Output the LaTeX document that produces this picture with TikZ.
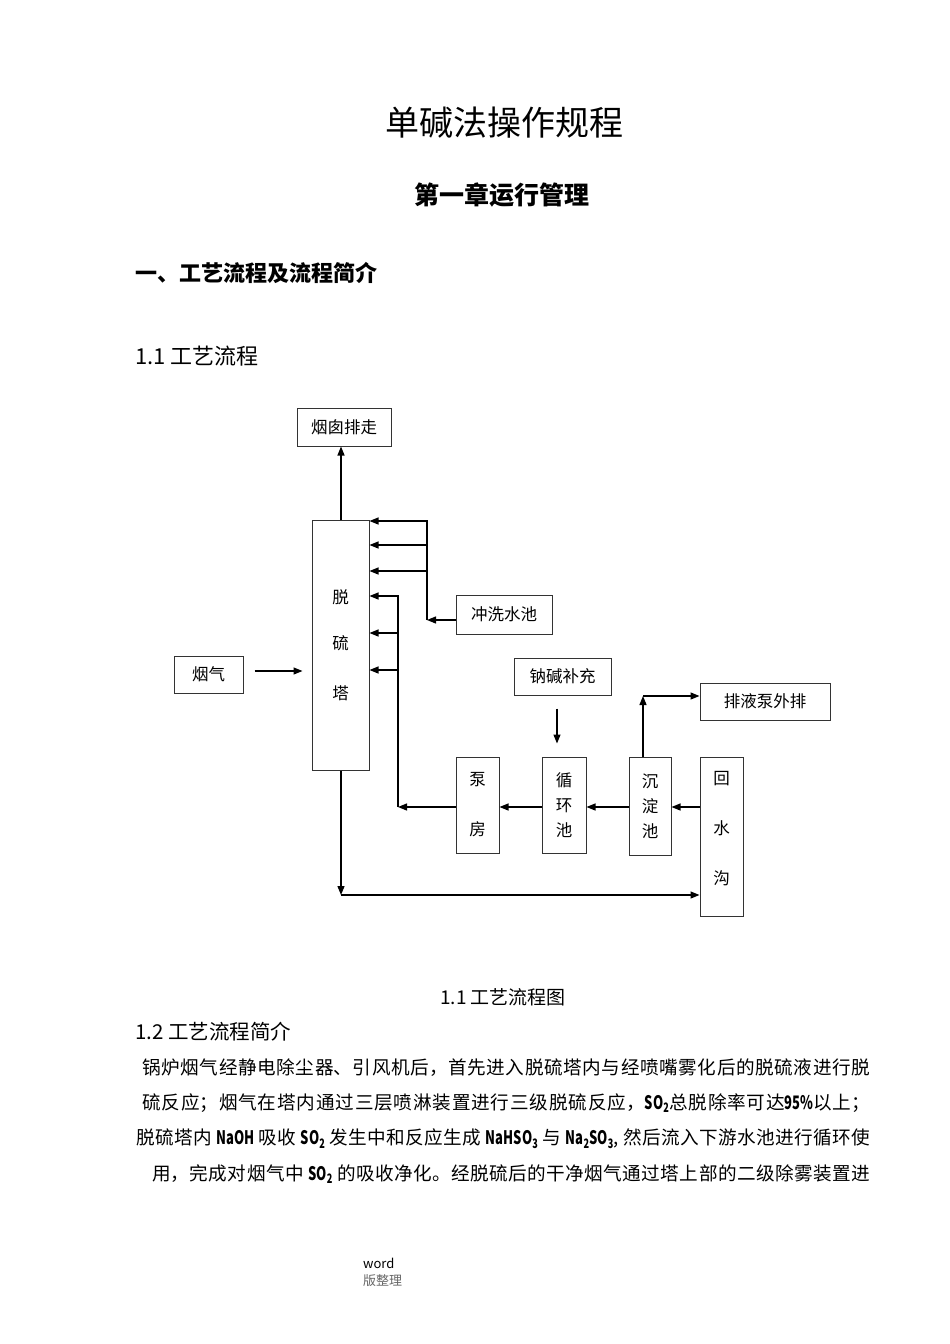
\documentclass[tikz,border=0pt]{standalone}
\usepackage{fontspec}
\setmainfont{Noto Sans CJK SC}
\usepackage{graphicx}
\usetikzlibrary{arrows.meta}
\XeTeXlinebreaklocale "zh"
\XeTeXlinebreakskip=0pt plus 3pt
\newcommand\fsz[1]{\fontsize{#1}{#1}\selectfont}
\newcommand\lat[1]{\scalebox{0.7}[1]{\bfseries #1}}

\begin{document}
\begin{tikzpicture}[
    x=1pt, y=-1pt,
    >={Triangle[length=9pt,width=7pt]},
    box/.style={draw=black!80, line width=1pt, inner sep=0pt, align=center,
                font=\fontsize{16.5}{25}\selectfont},
    flow/.style={->, line width=1.3pt},
    pipe/.style={line width=1.3pt},
    txt/.style={inner sep=0pt, anchor=west},
    para/.style={txt, align=justify, font=\fsz{18.6}},
]
\useasboundingbox[fill=white] (0,0) rectangle (950,1344);

% headings
\node[inner sep=0pt, font=\fsz{34}] (title) at (504,123) {单碱法操作规程};
\node[inner sep=0pt, font=\fsz{25}\bfseries] (chap) at (502,195) {第一章运行管理};
\node[txt, font=\fsz{22}\bfseries] (sec) at (135,273) {一、工艺流程及流程简介};
\node[txt, font=\fsz{22}] (sub1) at (135,356) {1.1 工艺流程};

% boxes
\node[box, minimum width=94pt, minimum height=38pt] (chimney) at (344,427) {烟囱排走};
\node[box, minimum width=57pt, minimum height=250pt] (tower) at (340.5,645)
    {脱\\[21pt]硫\\[25pt]塔};
\node[box, minimum width=96pt, minimum height=39pt] (wash) at (504,614.5) {冲洗水池};
\node[box, minimum width=69pt, minimum height=37pt] (gas) at (208.5,674.5) {烟气};
\node[box, minimum width=97pt, minimum height=37pt] (naoh) at (562.5,676.5) {钠碱补充};
\node[box, minimum width=130pt, minimum height=37pt] (drain) at (765,701.5) {排液泵外排};
\node[box, minimum width=43pt, minimum height=96pt] (pump) at (477.5,805) {泵\\[25pt]房};
\node[box, minimum width=44pt, minimum height=96pt] (circ) at (564,805) {循\\环\\池};
\node[box, minimum width=42pt, minimum height=98pt] (settle) at (650,806) {沉\\淀\\池};
\node[box, minimum width=43pt, minimum height=159pt] (ditch) at (721.5,836.5) {};
\node[inner sep=0pt, align=center, font=\fontsize{16.5}{25}\selectfont] (ditchtxt)
    at (721.5,829) {回\\[25pt]水\\[25pt]沟};

% bend points
\coordinate (row) at (0,807);
\coordinate (wbot) at (427,620);
\coordinate (sbus) at (398,807);
\coordinate (dk) at (643,696);
\coordinate (bk) at (341,895);

% gas path
\draw[flow] (tower.north -| bk) -- (chimney.south -| bk);
\draw[flow, shorten <=11pt, shorten >=9pt] (gas.east |- 0,671) -- (tower.west |- 0,671);

% wash water
\draw[flow] (wash.west |- wbot) -- (wbot);
\draw[pipe] (wbot) -- (427,520.4);
\foreach \y [count=\i] in {521,545,571} {
    \coordinate (w\i) at (427,\y);
    \draw[flow] (w\i) -- (w\i -| tower.east);
}

% circulation loop
\draw[flow] (ditch.west |- row) -- (settle.east |- row);
\draw[flow] (settle.west |- row) -- (circ.east |- row);
\draw[flow] (circ.west |- row) -- (pump.east |- row);
\draw[flow] (pump.west |- row) -- (sbus);
\draw[pipe] (sbus) -- (398,595.4);
\foreach \y [count=\i] in {596,633,670} {
    \coordinate (s\i) at (398,\y);
    \draw[flow] (s\i) -- (s\i -| tower.east);
}
\draw[flow, shorten <=13pt, shorten >=13pt] (naoh.south -| 557,0) -- (circ.north -| 557,0);
\draw[flow] (settle.north -| dk) -- (dk);
\draw[flow] (dk) -- (dk -| drain.west);
\draw[flow] (tower.south -| bk) -- (bk);
\draw[flow] (bk) -- (bk -| ditch.west);

% caption and text
\node[inner sep=0pt, font=\fsz{19}] (cap) at (503,997) {1.1 工艺流程图};
\node[txt, font=\fsz{20.5}] (sub2) at (135,1032) {1.2 工艺流程简介};
\node[para, text width=728pt] (p1) at (142,1068)
    {\parfillskip=0pt\relax 锅炉烟气经静电除尘器、引风机后，首先进入脱硫塔内与经喷嘴雾化后的脱硫液进行脱\par};
\node[para, text width=728pt] (p2) at (142,1103)
    {\parfillskip=0pt\relax 硫反应；烟气在塔内通过三层喷淋装置进行三级脱硫反应，\lat{SO\textsubscript{2}}总脱除率可达\lat{95\%}以上；\par};
\node[para, text width=734pt] (p3) at (136,1139)
    {\parfillskip=0pt\relax 脱硫塔内 \lat{NaOH} 吸收 \lat{SO\textsubscript{2}} 发生中和反应生成 \lat{NaHSO\textsubscript{3}} 与 \lat{Na\textsubscript{2}SO\textsubscript{3}}, 然后流入下游水池进行循环使\par};
\node[para, text width=718pt] (p4) at (152,1174)
    {\parfillskip=0pt\relax 用，完成对烟气中 \lat{SO\textsubscript{2}} 的吸收净化。经脱硫后的干净烟气通过塔上部的二级除雾装置进\par};

% footer
\node[txt, font=\fsz{13}] (word) at (363,1263) {word};
\node[txt, font=\fsz{13}, text=black!60] (ban) at (363,1281) {版整理};
\end{tikzpicture}
\end{document}
